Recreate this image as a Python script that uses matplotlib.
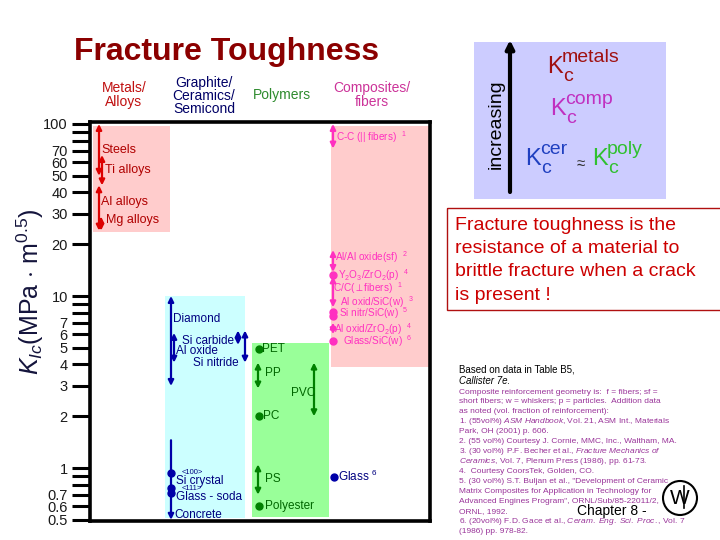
import matplotlib
matplotlib.use('Agg')
import matplotlib.pyplot as plt
from matplotlib.patches import Rectangle, Circle

plt.rcParams['font.family'] = ['Liberation Sans', 'DejaVu Sans']
plt.rcParams['mathtext.fontset'] = 'custom'
plt.rcParams['mathtext.rm'] = 'Liberation Sans'
plt.rcParams['mathtext.it'] = 'Liberation Sans:italic'
plt.rcParams['mathtext.bf'] = 'Liberation Sans:bold'

# K_Ic values (MPa m^0.5); lo == hi -> single point
metal_names = ['Steels', 'Ti alloys', 'Al alloys', 'Mg alloys']
metal_lo = [50, 44, 24, 24]
metal_hi = [100, 66, 44, 29]

cer_names = ['Diamond', 'Al oxide', 'Si carbide', 'Si nitride',
             'Si crystal <100>', 'Si crystal <111>', 'Glass - soda', 'Concrete']
cer_lo = [3.0, 4.1, 5.2, 4.1, 0.94, 0.77, 0.72, 0.5]
cer_hi = [10, 6.1, 6.3, 6.3, 0.94, 0.77, 0.72, 1.45]

poly_names = ['PET', 'PP', 'PVC', 'PC', 'PS', 'Polyester']
poly_lo = [4.9, 2.9, 2.0, 2.0, 0.7, 0.6]
poly_hi = [4.9, 4.1, 4.1, 2.0, 1.05, 0.6]

comp_names = ['C-C (|| fibers)', 'Al/Al oxide(sf)', r'Y$_2$O$_3$/ZrO$_2$(p)',
              r'C/C($\perp$fibers)', 'Al oxid/SiC(w)', 'Si nitr/SiC(w)',
              r'Al oxid/ZrO$_2$(p)', 'Glass/SiC(w)']
comp_refs = [1, 2, 4, 1, 3, 5, 4, 6]
comp_lo = [72, 13.8, 13.2, 8.6, 8.1, 7.7, 6.0, 5.5]
comp_hi = [100, 18.5, 13.2, 13.0, 8.1, 7.7, 7.0, 5.5]

glass_name = 'Glass'
glass_val = 0.89

ytick_vals = [100, 90, 80, 70, 60, 50, 40, 30, 20, 10, 9, 8, 7, 6, 5, 4, 3, 2,
              1, 0.9, 0.8, 0.7, 0.6, 0.5]
ytick_text = ['100', '', '', '70', '60', '50', '40', '30', '20', '10', '', '', '7',
              '6', '5', '4', '3', '2', '1', '', '', '0.7', '0.6', '0.5']

notes = [
    'Composite reinforcement geometry is:  f = fibers; sf =',
    'short fibers; w = whiskers; p = particles.  Addition data',
    'as noted (vol. fraction of reinforcement):',
    r'1. (55vol%) $\mathit{ASM\ Handbook}$, Vol. 21, ASM Int., Materials',
    'Park, OH (2001) p. 606.',
    '2. (55 vol%) Courtesy J. Cornie, MMC, Inc., Waltham, MA.',
    r'3. (30 vol%) P.F. Becher et al., $\mathit{Fracture\ Mechanics\ of}$',
    r'$\mathit{Ceramics}$, Vol. 7, Plenum Press (1986), pp. 61-73.',
    '4.  Courtesy CoorsTek, Golden, CO.',
    '5. (30 vol%) S.T. Buljan et al., "Development of Ceramic',
    'Matrix Composites for Application in Technology for',
    'Advanced Engines Program", ORNL/Sub/85-22011/2,',
    'ORNL, 1992.',
    r'6. (20vol%) F.D. Gace et al., $\mathit{Ceram.\ Eng.\ Sci.\ Proc.}$, Vol. 7',
    '(1986) pp. 978-82.',
]

# colours
c_met, c_met_t = '#dd0000', '#b00000'
c_cer, c_cer_t = '#0000a8', '#000080'
c_pol, c_pol_t = '#008000', '#006600'
c_cmp = '#ff30c0'

fig = plt.figure(figsize=(7.2, 5.4), dpi=100)

# overlay in pixel coordinates for the slide decorations
ov = fig.add_axes([0, 0, 1, 1], zorder=0)
ov.set_xlim(0, 720)
ov.set_ylim(540, 0)
ov.axis('off')

ax = fig.add_axes([90 / 720, 19 / 540, 340 / 720, 399 / 540], zorder=1)
ax.set_yscale('log')
ax.set_xlim(90, 430)
ax.set_ylim(0.492, 102.7)
ax.set_xticks([])
ax.minorticks_off()
ax.set_yticks(ytick_vals)
ax.set_yticklabels(ytick_text)
ax.tick_params(axis='y', length=13, width=2.2, pad=3, labelsize=10.5,
               labelcolor='#1a1a1a')
for s in ax.spines.values():
    s.set_linewidth(2.6)

# shaded class regions
ax.add_patch(Rectangle((93, 23.5), 77, 97 - 23.5, color='#ffcccc', lw=0))
ax.add_patch(Rectangle((165, 0.51), 80, 10 - 0.51, color='#ccffff', lw=0))
ax.add_patch(Rectangle((252, 0.517), 77, 5.3 - 0.517, color='#99ff99', lw=0))
ax.add_patch(Rectangle((331, 3.87), 99, 97 - 3.87, color='#ffcccc', lw=0))


def draw_range(x, lo, hi, color, style='<|-|>'):
    if lo == hi:
        ax.plot(x, lo, 'o', ms=5, color=color, zorder=3)
    else:
        ax.annotate('', xy=(x, lo), xytext=(x, hi), zorder=3,
                    arrowprops=dict(arrowstyle=style, color=color, lw=1.6,
                                    mutation_scale=8, shrinkA=0, shrinkB=0))


# metals
metal_x = [99, 102, 99, 101]
metal_lab = [(101, 71), (105, 54), (101, 35), (106, 27.7)]
for i, name in enumerate(metal_names):
    draw_range(metal_x[i], metal_lo[i], metal_hi[i], c_met)
    ax.text(*metal_lab[i], name, color=c_met_t, fontsize=9, va='center')

# ceramics
cer_x = [171, 174, 238, 245, 171, 171, 171, 171]
cer_style = ['<|-|>'] * 7 + ['-|>']
for i in range(len(cer_names)):
    draw_range(cer_x[i], cer_lo[i], cer_hi[i], c_cer, cer_style[i])
cer_lab = [('Diamond', 173, 7.35, 'left'), ('Si carbide', 182, 5.47, 'left'),
           ('Al oxide', 176, 4.79, 'left'), ('Si nitride', 239, 4.1, 'right'),
           ('Si crystal', 176, 0.845, 'left'), ('Glass - soda', 176, 0.675, 'left'),
           ('Concrete', 174, 0.53, 'left')]
for t, x, y, ha in cer_lab:
    ax.text(x, y, t, color=c_cer_t, fontsize=8.5, va='center', ha=ha)
ax.text(182, 0.94, '<100>', color=c_cer_t, fontsize=5.5, va='center')
ax.text(182, 0.762, '<111>', color=c_cer_t, fontsize=5.5, va='center')

# polymers
poly_x = [259, 258, 314, 259, 258, 259]
poly_lab = [(262, 4.9), (265, 3.56), (291, 2.73), (263, 2.0), (265, 0.86), (265, 0.6)]
for i, name in enumerate(poly_names):
    draw_range(poly_x[i], poly_lo[i], poly_hi[i], c_pol)
    ax.text(*poly_lab[i], name, color=c_pol_t, fontsize=8.5, va='center')

# composites
comp_lab = [(336, 84), (335, 16.9), (338, 13.3), (333, 11.1), (340, 9.25),
            (339, 7.95), (334, 6.45), (343, 5.45)]
for i, name in enumerate(comp_names):
    draw_range(333, comp_lo[i], comp_hi[i], c_cmp)
    ax.text(*comp_lab[i], name + r'  ${}^{%d}$' % comp_refs[i], color=c_cmp,
            fontsize=7.2, va='center')

ax.plot(334, glass_val, 'o', ms=5, color=c_cer, zorder=3)
ax.text(338, glass_val, glass_name + r' ${}^{6}$', color=c_cer_t, fontsize=8.5,
        va='center')

# y label and title
ov.text(30, 292, r'$K_{Ic}$(MPa $\cdot$ m$^{0.5}$)', rotation=90, ha='center',
        va='center', fontsize=18, color='#14143c')
ov.text(227, 52, 'Fracture Toughness', ha='center', va='center', fontsize=23,
        fontweight='bold', color='#8b0000')

# column headers
ov.text(124, 95, 'Metals/\nAlloys', ha='center', va='center', fontsize=10,
        color='#c01010', linespacing=0.95)
ov.text(204, 96, 'Graphite/\nCeramics/\nSemicond', ha='center', va='center',
        fontsize=10, color='#000066', linespacing=0.95)
ov.text(282, 95, 'Polymers', ha='center', va='center', fontsize=10, color='#2e8b2e')
ov.text(372, 95, 'Composites/\nfibers', ha='center', va='center', fontsize=10,
        color='#cc3399', linespacing=0.95)

# top right key
ov.add_patch(Rectangle((474, 42), 192, 157, color='#ccccff', lw=0))
ov.annotate('', xy=(510, 40), xytext=(510, 192),
            arrowprops=dict(arrowstyle='-|>', color='black', lw=3,
                            mutation_scale=12, shrinkA=0, shrinkB=0))
ov.text(496, 124, 'increasing', rotation=90, ha='center', va='center', fontsize=14)
keys = [('metals', '#a01010', 547, 73), ('comp', '#c030c0', 550, 115),
        ('cer', '#2040c0', 525, 165), ('poly', '#30c030', 592, 165)]
for sup, col, x, y in keys:
    ov.text(x, y, 'K', color=col, fontsize=17, va='baseline')
    ov.text(x + 15, y - 11, sup, color=col, fontsize=14, va='baseline')
    ov.text(x + 16, y + 8, 'c', color=col, fontsize=14, va='baseline')
ov.text(580, 162, r'$\approx$', fontsize=11, ha='center', va='center', color='#333333')

# definition box
ov.add_patch(Rectangle((447, 208), 290, 102, fill=False, edgecolor='#b01010', lw=1))
for j, line in enumerate(['Fracture toughness is the', 'resistance of a material to',
                          'brittle fracture when a crack', 'is present !']):
    ov.text(455, 225 + 23.5 * j, line, color='#cc0000', fontsize=14, va='center')

# source notes
ov.text(459, 370, 'Based on data in Table B5,', fontsize=7, va='center')
ov.text(459, 381, 'Callister 7e.', fontsize=7, va='center', style='italic')
for j, line in enumerate(notes):
    ov.text(459, 392 + 9.93 * j, line, fontsize=6, va='center', color='#993399')

ov.text(577, 511, 'Chapter 8 -', fontsize=10, va='center')
ov.add_patch(Circle((680, 498), 17, fill=False, edgecolor='black', lw=1.5))
ov.text(680, 498, 'W', fontsize=15, ha='center', va='center')
ov.plot([684, 684], [486, 508], color='black', lw=1.2)

fig.savefig('out.png', dpi=100)
